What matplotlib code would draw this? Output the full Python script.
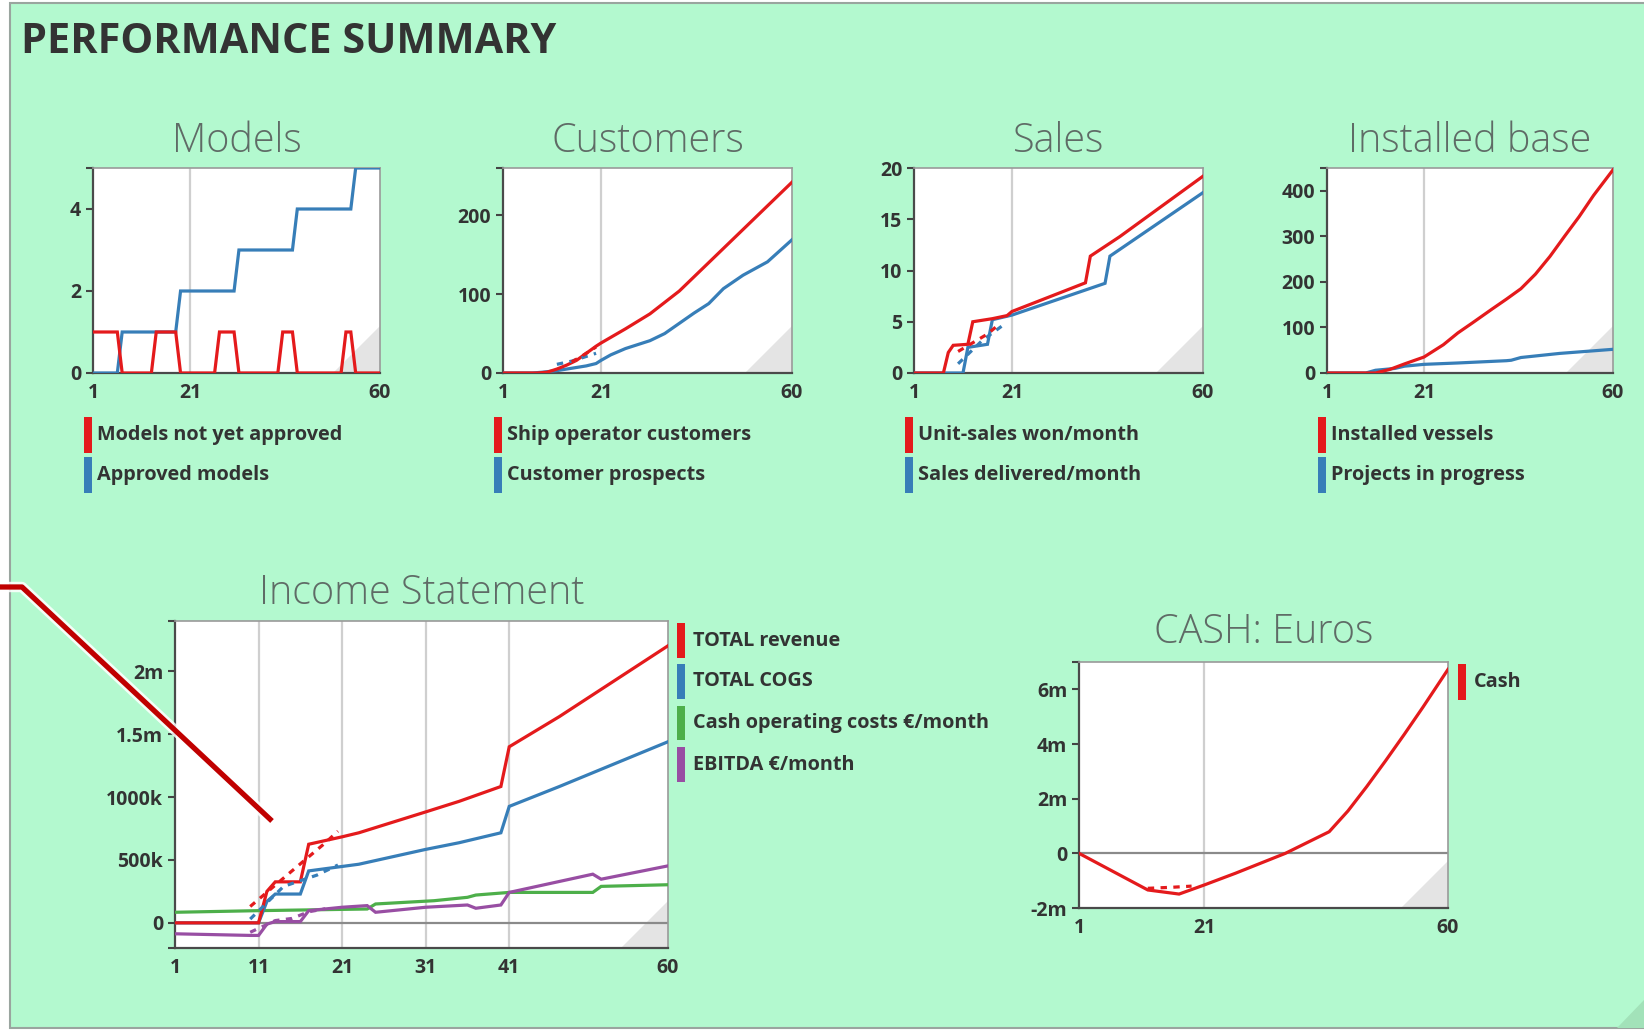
import matplotlib
matplotlib.use("Agg")
import matplotlib.pyplot as plt
import matplotlib.patheffects as pe
from matplotlib.patches import Rectangle, Polygon
from matplotlib.lines import Line2D

W, H = 1644, 1030
plt.rcParams['font.family'] = ['Open Sans', 'DejaVu Sans']

RED, BLUE, GREEN, PURPLE = '#e41a1c', '#377eb8', '#4daf4a', '#984ea3'
TXT = '#333333'

# ---- data: month number and value ----
months = list(range(1, 61))

models_pending = [1, 1, 1, 1, 1, 1, 0, 0, 0, 0, 0, 0, 0, 1, 1, 1, 1, 1, 0, 0,
                  0, 0, 0, 0, 0, 0, 1, 1, 1, 1, 0, 0, 0, 0, 0, 0, 0, 0, 0, 1,
                  1, 1, 0, 0, 0, 0, 0, 0, 0, 0, 0, 0, 1, 1, 0, 0, 0, 0, 0, 0]
models_approved = [0, 0, 0, 0, 0, 0, 1, 1, 1, 1, 1, 1, 1, 1, 1, 1, 1, 1, 2, 2,
                   2, 2, 2, 2, 2, 2, 2, 2, 2, 2, 3, 3, 3, 3, 3, 3, 3, 3, 3, 3,
                   3, 3, 4, 4, 4, 4, 4, 4, 4, 4, 4, 4, 4, 4, 5, 5, 5, 5, 5, 5]

cust_ship_m = [1, 8, 10, 12, 14, 16, 18, 20, 21, 26, 31, 37, 44, 50, 60]
cust_ship = [0, 0, 1, 5, 10, 16, 25, 34, 38, 56, 75, 104, 146, 182, 242]
cust_prosp_m = [1, 7, 9, 12, 15, 18, 20, 21, 23, 26, 31, 34, 37, 40, 43, 46, 50, 55, 60]
cust_prosp = [0, 0, 1, 3, 6, 9, 12, 16, 23, 31, 41, 50, 63, 76, 88, 107, 124, 141, 169]
cust_ship_alt_m = [15, 17, 20]
cust_ship_alt = [14, 21, 33]
cust_prosp_alt_m = [12, 15, 20]
cust_prosp_alt = [11, 15, 25]

sales_won_m = [1, 7, 8, 9, 12, 13, 17, 20, 21, 36, 37, 43, 60]
sales_won = [0, 0, 2.0, 2.7, 2.8, 5.0, 5.3, 5.6, 6.0, 8.8, 11.4, 13.3, 19.2]
sales_del_m = [1, 11, 12, 16, 17, 21, 40, 41, 60]
sales_del = [0, 0, 2.5, 2.8, 5.2, 5.65, 8.75, 11.4, 17.6]
sales_won_alt_m = [10, 16, 18]
sales_won_alt = [2.1, 3.8, 4.6]
sales_del_alt_m = [10, 15, 19]
sales_del_alt = [0.9, 3.2, 4.6]

inst_vessels_m = [1, 11, 14, 17, 21, 25, 28, 31, 35, 38, 41, 44, 47, 50, 53, 56, 60]
inst_vessels = [0, 0, 8, 20, 35, 62, 88, 110, 140, 162, 185, 217, 256, 300, 343, 390, 446]
inst_projects_m = [1, 9, 11, 15, 17, 21, 28, 38, 39, 41, 49, 60]
inst_projects = [0, 0, 6, 10, 15, 19, 22, 27, 28, 34, 43, 52]

rev_m = [1, 11, 12, 13, 16, 17, 21, 23, 31, 35, 40, 41, 47, 60]
revenue = [0, 0, 250e3, 326e3, 326e3, 625e3, 684e3, 716e3, 882e3, 966e3, 1084e3, 1400e3, 1640e3, 2203e3]
cogs_m = [1, 11, 12, 13, 16, 17, 23, 31, 35, 40, 41, 47, 60]
cogs = [0, 0, 170e3, 229e3, 229e3, 413e3, 466e3, 584e3, 637e3, 716e3, 926e3, 1084e3, 1440e3]
opex_m = [1, 11, 24, 25, 32, 36, 37, 41, 51, 52, 60]
opex = [84e3, 97e3, 110e3, 150e3, 176e3, 203e3, 221e3, 242e3, 242e3, 290e3, 303e3]
ebitda_m = [1, 10, 11, 12, 13, 16, 17, 21, 24, 25, 31, 36, 37, 40, 41, 51, 52, 60]
ebitda = [-87e3, -100e3, -100e3, -10e3, 10e3, 10e3, 97e3, 124e3, 137e3, 84e3, 124e3,
          142e3, 116e3, 142e3, 242e3, 387e3, 347e3, 453e3]
rev_alt_m = [10, 15, 19, 20.5]
rev_alt = [130e3, 413e3, 637e3, 729e3]
cogs_alt_m = [10, 14, 18, 20.5]
cogs_alt = [30e3, 290e3, 380e3, 460e3]
ebitda_alt_m = [10, 13, 15, 17, 19]
ebitda_alt = [-75e3, 18e3, 35e3, 88e3, 112e3]

cash_m = [1, 12, 17, 21, 26, 34, 41, 44, 47, 50, 53, 56, 60]
cash = [0, -1.34e6, -1.49e6, -1.16e6, -0.73e6, 0, 0.79e6, 1.55e6, 2.44e6, 3.38e6,
        4.35e6, 5.35e6, 6.73e6]
cash_alt_m = [12, 16, 19]
cash_alt = [-1.28e6, -1.24e6, -1.20e6]

fig = plt.figure(figsize=(16.44, 10.30), dpi=100)
fig.patch.set_facecolor('white')


def fx(x):
    return x / W


def fy(y):
    return 1 - y / H


# green panel
fig.add_artist(Rectangle((fx(10), fy(1028)), 1.0, (1028 - 3) / H, transform=fig.transFigure,
                         facecolor='#b3f9cf', edgecolor='#9aa59f', lw=1.5, zorder=-5))
fig.add_artist(Polygon([(fx(1617), fy(1028)), (fx(1644), fy(1000)), (fx(1644), fy(1028))],
                       transform=fig.transFigure, facecolor='#a2e2b9', edgecolor='none', zorder=-4))

fig.text(fx(21), fy(53), 'PERFORMANCE SUMMARY', fontsize=29.8, fontweight='bold',
         color=TXT, va='baseline')


def make_axes(box, title, title_base, xticks, grid_x, ylim, yticks, ylabels):
    x0, y0, x1, y1 = box
    ax = fig.add_axes([fx(x0), fy(y1), (x1 - x0) / W, (y1 - y0) / H])
    ax.set_facecolor('white')
    ax.set_xlim(1, 60)
    ax.set_ylim(*ylim)
    ax.set_xticks(xticks)
    ax.set_xticklabels([str(t) for t in xticks])
    ax.set_yticks(yticks)
    ax.set_yticklabels(ylabels)
    for g in grid_x:
        ax.axvline(g, color='#cfcfcf', lw=1.6, zorder=1)
    ax.tick_params(axis='x', length=0, pad=7, labelsize=14)
    ax.tick_params(axis='y', length=5, width=1.5, color='#444444', pad=3.5, labelsize=14)
    for lab in ax.get_xticklabels() + ax.get_yticklabels():
        lab.set_fontweight('bold')
        lab.set_color(TXT)
    for side in ('top', 'right'):
        ax.spines[side].set_color('#9a9a9a')
        ax.spines[side].set_linewidth(1.2)
    for side in ('left', 'bottom'):
        ax.spines[side].set_color('#4a4a4a')
        ax.spines[side].set_linewidth(1.6)
    # folded page corner
    fw, fh = 47 / (x1 - x0), 47 / (y1 - y0)
    ax.add_patch(Polygon([(1 - fw, 0), (1, 0), (1, fh)], transform=ax.transAxes,
                         facecolor='#e4e4e4', edgecolor='none', zorder=0.5))
    fig.text(fx((x0 + x1) / 2), fy(title_base), title, fontsize=28.5, fontweight='light',
             color='#5f6b66', ha='center', va='baseline')
    return ax


def legend_entry(x, y0, y1, color, label, text_x):
    fig.add_artist(Rectangle((fx(x), fy(y1)), 8 / W, (y1 - y0) / H, transform=fig.transFigure,
                             facecolor=color, edgecolor='none'))
    fig.text(fx(text_x), fy((y0 + y1) / 2), label, fontsize=14.3, fontweight='bold',
             color=TXT, va='center', ha='left')


def plot(ax, x, y, color, dashed=False):
    ls = (0, (2, 2)) if dashed else '-'
    ax.plot(x, y, color=color, lw=2.3, ls=ls, zorder=3, solid_joinstyle='miter')


small_x = [1, 21, 60]

# Models
box = (93, 168, 380, 373)
ax = make_axes(box, 'Models', 152, small_x, [21], (0, 5), [0, 2, 4, 5], ['0', '2', '4', ''])
plot(ax, months, models_approved, BLUE)
plot(ax, months, models_pending, RED)
legend_entry(84, 417, 453, RED, 'Models not yet approved', 97)
legend_entry(84, 457, 493, BLUE, 'Approved models', 97)

# Customers
box = (503, 168, 792, 373)
ax = make_axes(box, 'Customers', 152, small_x, [21], (0, 260), [0, 100, 200, 260],
               ['0', '100', '200', ''])
plot(ax, cust_prosp_m, cust_prosp, BLUE)
plot(ax, cust_ship_m, cust_ship, RED)
plot(ax, cust_prosp_alt_m, cust_prosp_alt, BLUE, dashed=True)
plot(ax, cust_ship_alt_m, cust_ship_alt, RED, dashed=True)
legend_entry(494, 417, 453, RED, 'Ship operator customers', 507)
legend_entry(494, 457, 493, BLUE, 'Customer prospects', 507)

# Sales
box = (914, 168, 1203, 373)
ax = make_axes(box, 'Sales', 152, small_x, [21], (0, 20), [0, 5, 10, 15, 20],
               ['0', '5', '10', '15', '20'])
plot(ax, sales_del_m, sales_del, BLUE)
plot(ax, sales_won_m, sales_won, RED)
plot(ax, sales_del_alt_m, sales_del_alt, BLUE, dashed=True)
plot(ax, sales_won_alt_m, sales_won_alt, RED, dashed=True)
legend_entry(905, 417, 453, RED, 'Unit-sales won/month', 918)
legend_entry(905, 457, 493, BLUE, 'Sales delivered/month', 918)

# Installed base
box = (1327, 168, 1613, 373)
ax = make_axes(box, 'Installed base', 152, small_x, [21], (0, 450),
               [0, 100, 200, 300, 400, 450], ['0', '100', '200', '300', '400', ''])
plot(ax, inst_projects_m, inst_projects, BLUE)
plot(ax, inst_vessels_m, inst_vessels, RED)
legend_entry(1318, 417, 453, RED, 'Installed vessels', 1331)
legend_entry(1318, 457, 493, BLUE, 'Projects in progress', 1331)

# Income statement
box = (175, 621, 668, 948)
ax = make_axes(box, 'Income Statement', 604, [1, 11, 21, 31, 41, 60], [11, 21, 31, 41],
               (-200e3, 2.4e6), [-200e3, 0, 500e3, 1000e3, 1.5e6, 2e6, 2.4e6],
               ['', '0', '500k', '1000k', '1.5m', '2m', ''])
ax.axhline(0, color='#8a8a8a', lw=1.6, zorder=2)
plot(ax, opex_m, opex, GREEN)
plot(ax, ebitda_m, ebitda, PURPLE)
plot(ax, cogs_m, cogs, BLUE)
plot(ax, rev_m, revenue, RED)
plot(ax, ebitda_alt_m, ebitda_alt, PURPLE, dashed=True)
plot(ax, cogs_alt_m, cogs_alt, BLUE, dashed=True)
plot(ax, rev_alt_m, rev_alt, RED, dashed=True)
legend_entry(677, 623, 658, RED, 'TOTAL revenue', 693)
legend_entry(677, 664, 699, BLUE, 'TOTAL COGS', 693)
legend_entry(677, 706, 740, GREEN, 'Cash operating costs €/month', 693)
legend_entry(677, 747, 782, PURPLE, 'EBITDA €/month', 693)

# Cash
box = (1079, 662, 1448, 908)
ax = make_axes(box, 'CASH: Euros', 643, small_x, [21], (-2e6, 7e6),
               [-2e6, 0, 2e6, 4e6, 6e6, 7e6], ['-2m', '0', '2m', '4m', '6m', ''])
ax.axhline(0, color='#8a8a8a', lw=1.6, zorder=2)
plot(ax, cash_m, cash, RED)
plot(ax, cash_alt_m, cash_alt, RED, dashed=True)
legend_entry(1458, 664, 700, RED, 'Cash', 1474)

# red call-out line over the income chart
fig.add_artist(Line2D([fx(0), fx(22), fx(272)], [fy(587), fy(587), fy(821)],
                      transform=fig.transFigure, color='#c00000', lw=3.8,
                      solid_capstyle='butt', zorder=20,
                      path_effects=[pe.Stroke(linewidth=7.5, foreground='white', alpha=0.85),
                                    pe.Normal()]))

fig.savefig('out.png', dpi=100)
